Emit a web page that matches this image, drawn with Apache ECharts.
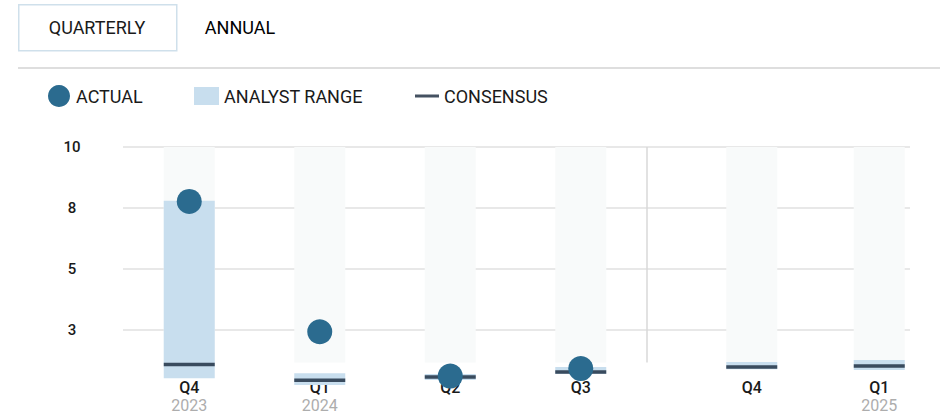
<!DOCTYPE html>
<html>
<head>
<meta charset="utf-8">
<title>EPS — Quarterly</title>
<script src="https://cdn.jsdelivr.net/npm/echarts@6/dist/echarts.min.js"></script>
<style>
  html, body { margin: 0; padding: 0; background: #fff; }
  #chart { width: 943px; height: 415px; }
</style>
</head>
<body>
<div id="chart"></div>
<script>
// Quarterly earnings: reported value, analyst range and consensus per quarter
const quarters  = ['Q4', 'Q1', 'Q2', 'Q3', 'Q4', 'Q1'];
const years     = ['2023', '2024', '', '', '', '2025'];
const actual    = [7.77, 2.43, 0.61, 0.92, null, null];
const rangeLow  = [0.52, 0.25, 0.45, 0.70, 0.89, 0.86];
const rangeHigh = [7.80, 0.73, 0.70, 0.98, 1.19, 1.27];
const consensus = [1.09, 0.44, 0.57, 0.78, 0.98, 1.02];
const reportedCount = 4;          // quarters already reported (left panel)
const yMax = 10;
const yInterval = 2.5;
const columnFloor = 1.17;         // bottom of the shaded quarter columns

const FONT = 'Roboto, "Noto Sans", sans-serif';
const C = {
  actual: '#2b6b8f',
  range: '#c8deee',
  consensus: '#15253a',
  column: '#f8fafa',
  grid: '#e0e0e0',
  text: '#1a1a1a',
  year: '#adadad'
};
const BAR_W = 51;

// left panel: reported quarters, right panel: upcoming quarters
const GRID_A = { left: 124, width: 522 };
const GRID_B = { left: 688, width: 260 };
const TOP = 147, BOTTOM = 24;

const panels = [
  { from: 0, to: reportedCount, grid: GRID_A },
  { from: reportedCount, to: quarters.length, grid: GRID_B }
];

const chart = echarts.init(document.getElementById('chart'), null, { renderer: 'svg' });

const grids = [], xAxes = [], yAxes = [], series = [];

panels.forEach((p, i) => {
  grids.push({ left: p.grid.left, width: p.grid.width, top: TOP, bottom: BOTTOM });
  xAxes.push({
    type: 'category',
    gridIndex: i,
    data: quarters.slice(p.from, p.to),
    axisLine: { show: false },
    axisTick: { show: false },
    splitLine: { show: false },
    axisLabel: {
      interval: 0,
      margin: -13,
      formatter: (v, idx) => {
        const y = years[p.from + idx];
        return y ? `{q|${v}}\n{y|${y}}` : `{q|${v}}`;
      },
      rich: {
        q: { fontFamily: FONT, fontSize: 16, fontWeight: 500, color: C.text, lineHeight: 18 },
        y: { fontFamily: FONT, fontSize: 16, color: C.year, lineHeight: 18 }
      }
    }
  });
  yAxes.push({ type: 'value', gridIndex: i, min: 0, max: yMax, show: false });

  const n = p.to - p.from;
  const low = rangeLow.slice(p.from, p.to);
  const high = rangeHigh.slice(p.from, p.to);
  const common = { xAxisIndex: i, yAxisIndex: i, barWidth: BAR_W, barGap: '-100%', silent: true };

  series.push(
    Object.assign({ type: 'bar', stack: 'col' + i, data: new Array(n).fill(columnFloor),
      itemStyle: { color: 'transparent' } }, common),
    Object.assign({ type: 'bar', stack: 'col' + i, data: new Array(n).fill(yMax - columnFloor),
      itemStyle: { color: C.column } }, common),
    Object.assign({ type: 'bar', stack: 'rng' + i, data: low,
      itemStyle: { color: 'transparent' } }, common),
    Object.assign({ type: 'bar', name: 'ANALYST RANGE', stack: 'rng' + i,
      data: high.map((h, k) => +(h - low[k]).toFixed(4)),
      itemStyle: { color: C.range } }, common),
    { type: 'scatter', name: 'CONSENSUS', xAxisIndex: i, yAxisIndex: i, silent: true,
      symbol: 'rect', symbolSize: [BAR_W, 3.5], data: consensus.slice(p.from, p.to),
      itemStyle: { color: C.consensus } },
    { type: 'scatter', name: 'ACTUAL', xAxisIndex: i, yAxisIndex: i, silent: true,
      symbol: 'circle', symbolSize: 25, data: actual.slice(p.from, p.to),
      itemStyle: { color: C.actual, opacity: 1 } }
  );
});

// full-width value axis carrying the labels and horizontal grid lines
grids.push({ left: 123, right: 33, top: TOP, bottom: BOTTOM });
xAxes.push({ type: 'value', gridIndex: 2, min: 0, max: 1, show: false });
yAxes.push({
  type: 'value', gridIndex: 2, min: 0, max: yMax, interval: yInterval,
  axisLine: { show: false }, axisTick: { show: false },
  splitLine: { show: true, showMinLine: false, lineStyle: { color: C.grid, width: 1.5 } },
  axisLabel: {
    showMinLabel: false, align: 'center', margin: 51,
    formatter: v => String(Math.round(v)),
    fontFamily: FONT, fontSize: 15, fontWeight: 500, color: C.text
  }
});

const legendBase = {
  top: 80, orient: 'horizontal', selectedMode: false,
  textStyle: { fontFamily: FONT, fontSize: 18, color: C.text, lineHeight: 22 }
};

chart.setOption({
  animation: false,
  backgroundColor: '#fff',
  grid: grids,
  xAxis: xAxes,
  yAxis: yAxes,
  legend: [
    Object.assign({ left: 43, itemWidth: 24, itemHeight: 22,
      data: [{ name: 'ACTUAL', icon: 'circle' }] }, legendBase),
    Object.assign({ left: 189, itemWidth: 25, itemHeight: 18,
      data: [{ name: 'ANALYST RANGE', icon: 'rect' }] }, legendBase),
    Object.assign({ left: 410, itemWidth: 24, itemHeight: 3,
      data: [{ name: 'CONSENSUS', icon: 'rect' }] }, legendBase)
  ],
  graphic: {
    elements: [
      { type: 'rect', id: 'tabBox', left: 18, top: 4, silent: true,
        shape: { width: 158, height: 46 },
        style: { fill: '#fff', stroke: '#cfe0eb', lineWidth: 1.5 } },
      { type: 'text', id: 'tabQ', x: 97, y: 27, silent: true,
        style: { text: 'QUARTERLY', fontFamily: FONT, fontSize: 18, fill: C.text,
          align: 'center', verticalAlign: 'middle' } },
      { type: 'text', id: 'tabA', x: 240, y: 27, silent: true,
        style: { text: 'ANNUAL', fontFamily: FONT, fontSize: 18, fill: '#000',
          align: 'center', verticalAlign: 'middle' } },
      { type: 'line', id: 'rule', silent: true,
        shape: { x1: 18, y1: 68, x2: 940, y2: 68 },
        style: { stroke: '#dedede', lineWidth: 2 } }
    ]
  },
  series: series
});

// vertical separator between reported and upcoming quarters
const divX = GRID_A.left + GRID_A.width + 1;
const divTop = chart.convertToPixel({ yAxisIndex: 2 }, yMax);
const divBottom = chart.convertToPixel({ yAxisIndex: 2 }, columnFloor);
chart.setOption({
  graphic: {
    elements: [
      { type: 'line', id: 'divider', silent: true, z: 1,
        shape: { x1: divX, y1: divTop, x2: divX, y2: divBottom },
        style: { stroke: '#d9d9d9', lineWidth: 1.5 } }
    ]
  }
});
</script>
</body>
</html>
